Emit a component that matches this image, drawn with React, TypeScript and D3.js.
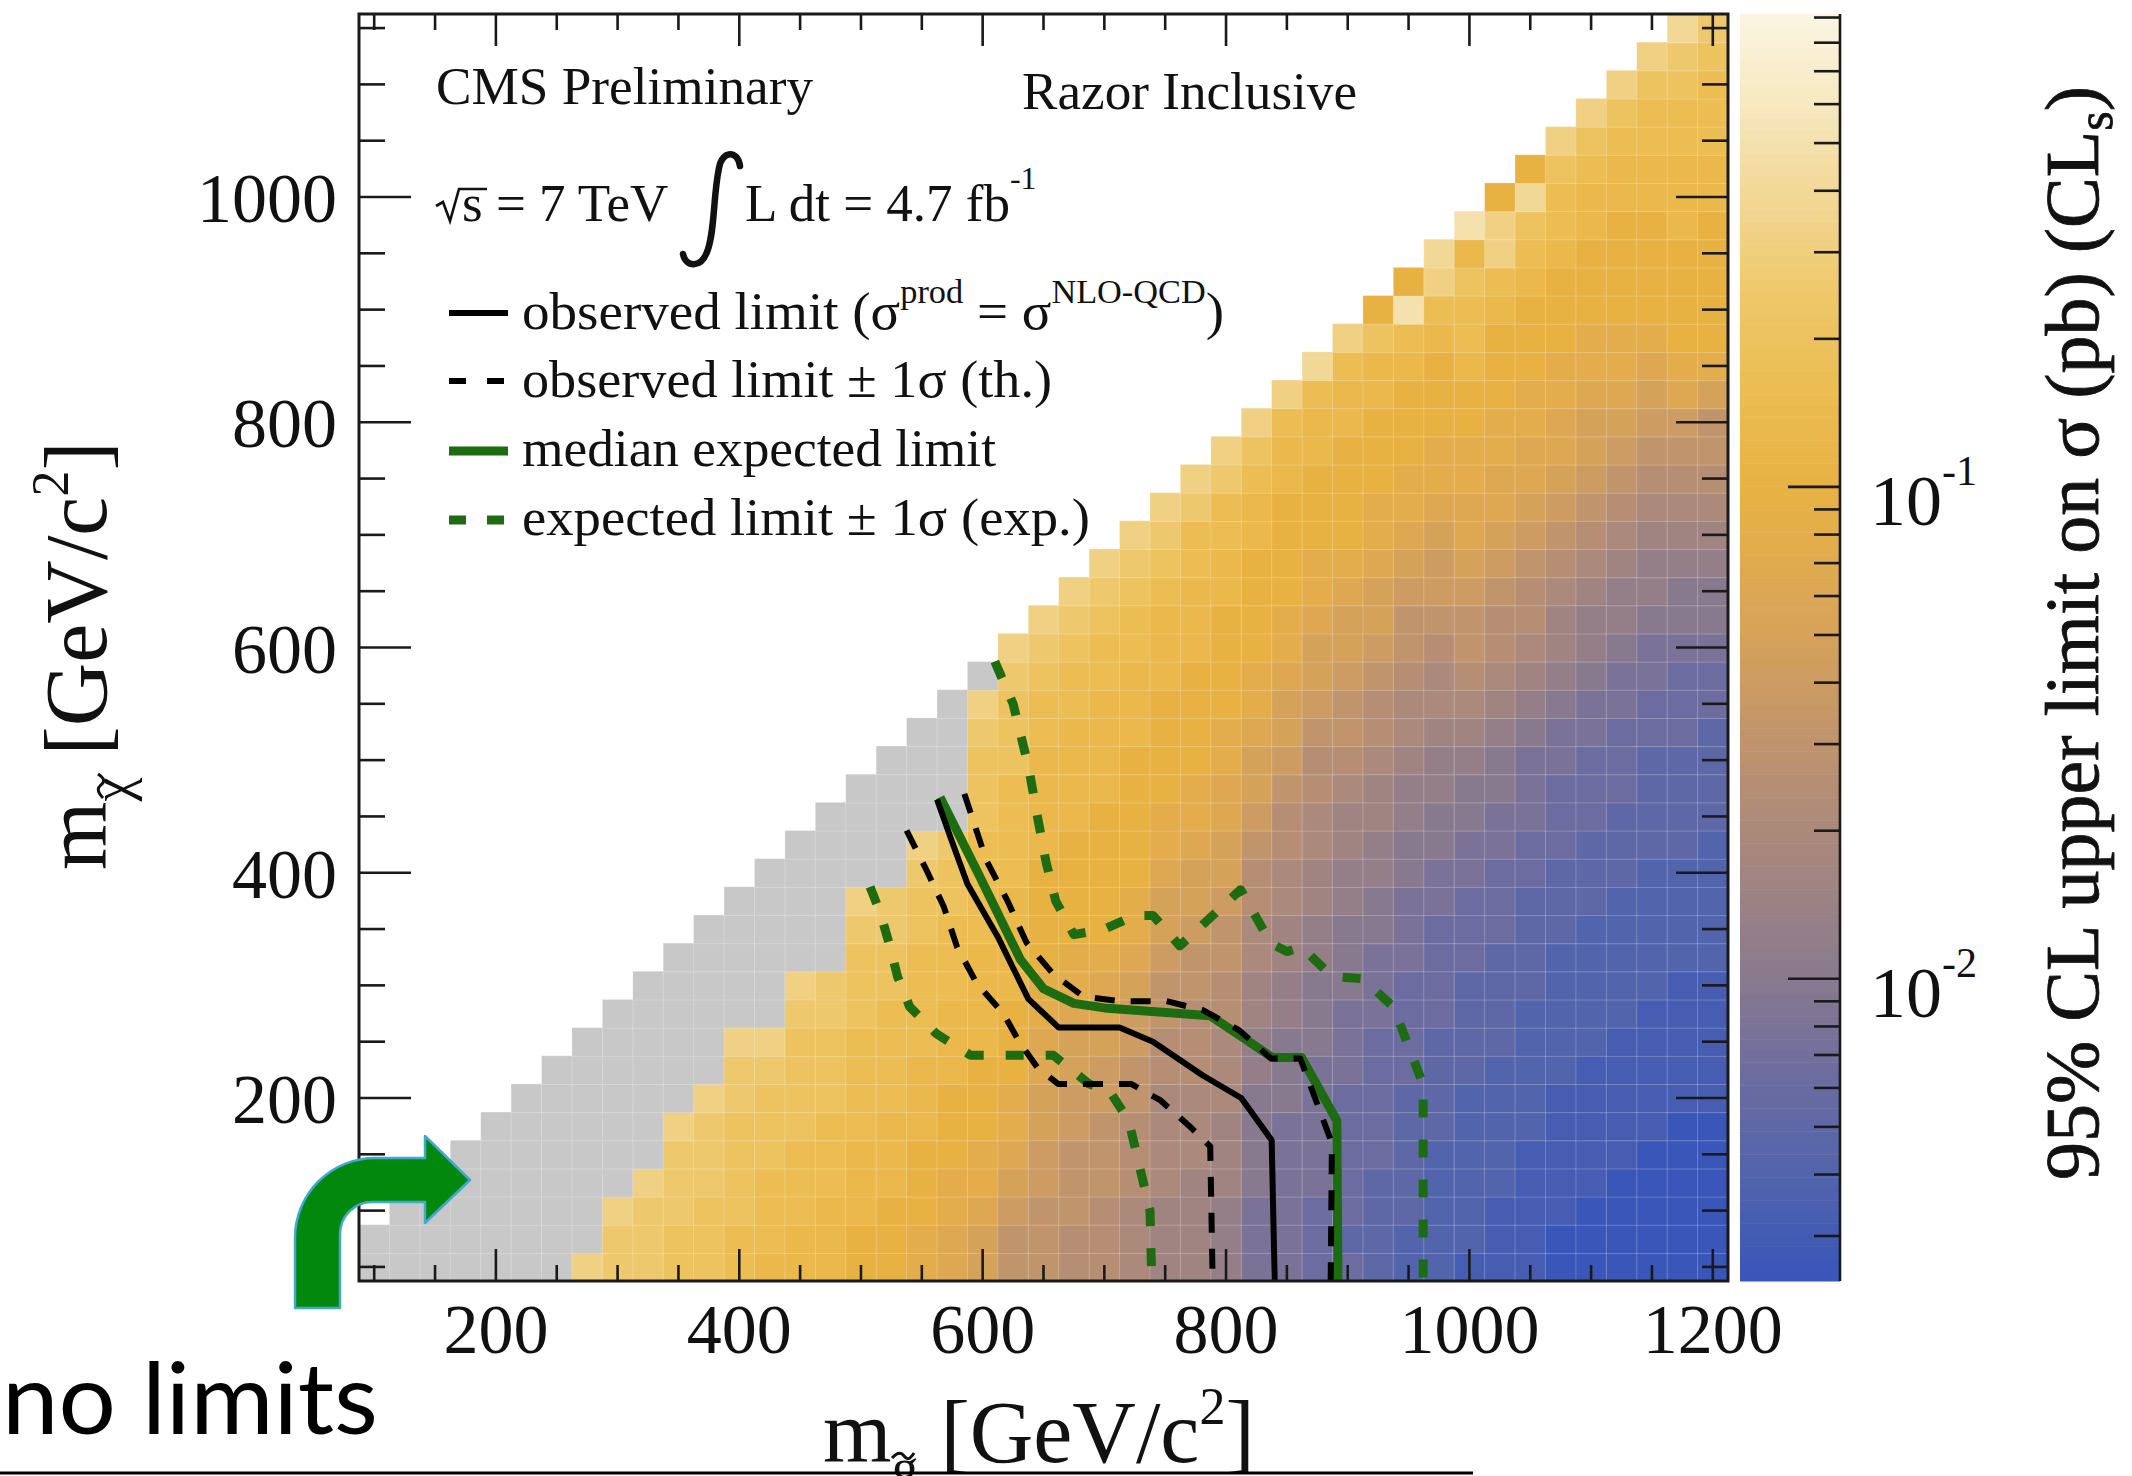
import React from 'react';
import * as d3 from 'd3';

// Razor inclusive T1 limit scan, 95% CL upper limit on sigma (pb)

const W = 2132;
const H = 1476;

// bin centres, GeV
const gluinoMass = [
  100, 125, 150, 175, 200, 225, 250, 275, 300, 325, 350, 375, 400, 425, 450,
  475, 500, 525, 550, 575, 600, 625, 650, 675, 700, 725, 750, 775, 800, 825,
  850, 875, 900, 925, 950, 975, 1000, 1025, 1050, 1075, 1100, 1125, 1150, 1175, 1200,
];
const lspMass = [
  50, 75, 100, 125, 150, 175, 200, 225, 250, 275, 300, 325, 350, 375, 400,
  425, 450, 475, 500, 525, 550, 575, 600, 625, 650, 675, 700, 725, 750, 775,
  800, 825, 850, 875, 900, 925, 950, 975, 1000, 1025, 1050, 1075, 1100, 1125, 1150,
];

// upper limit per cell, one string per gluino column, read bottom (m_LSP = 50) upward.
// letter code: 'a' = 10^-2.6 pb, each next letter +0.1 decade; '.' = no limit (grey)
const LEVELS = 'abcdefghijklmnopqrstuvwxyz';
const limitColumns = [
  '..',
  '...',
  '....',
  '.....',
  '......',
  '.......',
  '........',
  'v........',
  'uuv.......',
  'uuuv.......',
  'ttuuuv......',
  'tttuuuv......',
  'ssttttuuv.....',
  'rssstttuv......',
  'rrsssttttuv.....',
  'rrrssstttuu......',
  'qqrrrsssstttuv....',
  'qqqrrrssssttuu.....',
  'ppqqqrrrssssttuv....',
  'ooppqqqrrrsssttu.....',
  'nnoppqqqrrrrsssstttuv.',
  'llmnoppqqqrrrrsssstttuv',
  'lllmmnnooppqqqqrrrrsstuv',
  'kklllmmnnoppqqqqrrrrsstuv',
  'kkklllmmnoopqqqqqrrrrsstuv',
  'jjjkkkllmmnoppqqqqqrrrsstuv',
  'iiijjjjkkllmnnoppqqqqrrrstuv',
  'iiiijjjkkkllmnnoppqqqqrrrssuv',
  'hhhiiijjjkkllmnnooppqqqqrrssuv',
  'fffgggghhiijjkklmnnoppqqqqrrstv',
  'ffffffggghhiijjkklmnnoppqqqqrrsv',
  'eeefffffggghhiijjkklmnnoppqqqrrsw',
  'edeeeeefffggghhiijkllmnnopqqqqrrsv',
  'ddddeeeeefffgghhiijkklmnnoppqqqrrtq',
  'ccdddddeeeefffgghhijjkllmnoppqqqrsxq',
  'cccccddddeeeeffgghhijjklmmnoppqqqrsvw',
  'bccccccddddeeeffgghijkllmnooppqqrsstrx',
  'bbbcccccddddeeeffgghijkklmnooppqqqrsvvq',
  'bbbbbcccccddddeefffghijkklmnooppqqqrstwq',
  'aabbbbbcccccdddeeeffghiijklmnooppqqqrsstv',
  'aaabbbbbcccccdddeeeffghhijklmnnoppqqqrrstv',
  'aaaabbbbbcccccdddeeeffghhijklmnoppqqqqrrstv',
  'aaaaabbbbbcccccddddeeffghhijklmnopqqqqrrsstv',
  'aaaaaabbbbbccccddddeeefgghijklmopqqqqrrrsstuw',
  'aaaaaabbbbbcccccddddeefgghijkllnpqqqqqrrssstu',
];

// contours (m_gluino, m_LSP)
const obsX = [562.5, 575, 587.5, 612.5, 637.5, 662.5, 712.5, 740, 781, 812.5, 837.5, 840];
const obsY = [465, 427, 390, 343, 288, 262.5, 262.5, 250, 220, 200, 162.5, 37.5];
const obsUpX = [585, 603, 620, 636, 658, 683, 713, 751, 781, 811, 837, 861, 887, 886];
const obsUpY = [470, 411, 376, 338, 310, 290, 286, 286, 278, 260, 235, 235, 160, 37.5];
const obsDownX = [537.5, 554, 568, 579, 595, 617, 630, 645, 662, 722, 746, 770, 787, 789];
const obsDownY = [437.5, 402, 370, 334, 302, 275, 250, 227, 212.5, 212.5, 198, 175, 157, 37.5];
const expX = [565, 597, 631, 650, 675, 700, 787, 812, 838, 862, 891, 892];
const expY = [467, 398, 323, 297, 284, 280, 273, 255, 236, 236, 180, 37.5];
const expUpX = [610, 625, 637.5, 645, 652, 660, 675, 700, 725, 740, 762, 787, 812, 837, 850, 862, 887, 912, 937.5, 962, 962];
const expUpY = [587.5, 550, 495, 450, 410, 375, 345, 350, 362, 362, 335, 360, 385, 337, 330, 334, 308, 306, 281, 212, 37.5];
const expDownX = [507.5, 516, 524, 530, 540, 562, 590, 622, 658, 687.5, 705, 720, 737.5, 739];
const expDownY = [387.5, 364, 334, 308, 281, 257, 238, 238, 238, 212.5, 205, 180, 100, 37.5];

const xMajor = [200, 400, 600, 800, 1000, 1200];
const xMinor = [100, 150, 250, 300, 350, 450, 500, 550, 650, 700, 750, 850, 900, 950, 1050, 1100, 1150];
const yMajor = [200, 400, 600, 800, 1000];
const yMinor = [50, 100, 150, 250, 300, 350, 450, 500, 550, 650, 700, 750, 850, 900, 950, 1050, 1100, 1150];
const zMajor = [0.01, 0.1];
const zMinor = [0.003, 0.004, 0.005, 0.006, 0.007, 0.008, 0.009, 0.02, 0.03, 0.04, 0.05, 0.06, 0.07, 0.08, 0.09, 0.2, 0.3, 0.4, 0.5, 0.6, 0.7, 0.8, 0.9];

// palette, indexed by level code
const paletteLevels = [0, 2, 4, 6, 8, 10, 12, 14, 16, 18, 20, 22, 24, 26];
const paletteColors = [
  '#3a56b8', '#5264ac', '#6c6ca0', '#887a8e', '#a08482', '#b68e74', '#cc9c62',
  '#dea852', '#e8b243', '#ebbd52', '#eec86c', '#f2d897', '#f7eac4', '#fcf8ea',
];
const NO_LIMIT = '#c8c8c8';
const GREEN = '#1d6c12';
const SERIF = "'Liberation Serif', 'Times New Roman', serif";

const PLOT = { left: 359, right: 1728, top: 14, bottom: 1281 };
const CBAR = { left: 1740, right: 1840 };

// small tilde accent drawn as a path, local coords
const tildePath = (x0: number, y0: number, w: number) =>
  `M${x0},${y0 + 2} C${x0 + w * 0.3},${y0 - 5} ${x0 + w * 0.45},${y0 - 3} ${x0 + w * 0.55},${y0}` +
  ` C${x0 + w * 0.68},${y0 + 4} ${x0 + w * 0.8},${y0 + 4} ${x0 + w},${y0 - 3}`;

export default function App() {
  const x = d3.scaleLinear().domain([87.5, 1212.5]).range([PLOT.left, PLOT.right]);
  const y = d3.scaleLinear().domain([37.5, 1162.5]).range([PLOT.bottom, PLOT.top]);
  const z = d3.scaleLog().domain([0.00243, 0.915]).range([PLOT.bottom, PLOT.top]);

  const levelColor = d3.scaleLinear<string>()
    .domain(paletteLevels)
    .range(paletteColors)
    .interpolate(d3.interpolateRgb)
    .clamp(true);
  const colorOf = (v: number) => levelColor((Math.log10(v) + 2.6) / 0.1);
  const limitFromCode = (ch: string) => Math.pow(10, -2.6 + 0.1 * LEVELS.indexOf(ch));

  const line = d3.line<[number, number]>().x(d => x(d[0])).y(d => y(d[1]));
  const zip = (xs: number[], ys: number[]) => xs.map((v, i) => [v, ys[i]] as [number, number]);

  // heat map cells
  const cells: JSX.Element[] = [];
  gluinoMass.forEach((mg, i) => {
    const codes = limitColumns[i] || '';
    for (let j = 0; j < codes.length && j < lspMass.length; j++) {
      const ml = lspMass[j];
      const ch = codes[j];
      const fill = ch === '.' ? NO_LIMIT : colorOf(limitFromCode(ch));
      const x0 = x(mg - 12.5);
      const x1 = x(mg + 12.5);
      const y0 = y(ml + 12.5);
      const y1 = y(ml - 12.5);
      cells.push(
        <rect key={`c${i}-${j}`} x={x0} y={y0} width={x1 - x0 + 0.6} height={y1 - y0 + 0.6}
          fill={fill} stroke="rgba(255,255,255,0.22)" strokeWidth={1} />
      );
    }
  });

  // colour bar bands
  const nBands = 110;
  const [zlo, zhi] = z.domain();
  const bands = d3.range(nBands).map(k => {
    const l0 = Math.log10(zlo) + (Math.log10(zhi) - Math.log10(zlo)) * k / nBands;
    const l1 = Math.log10(zlo) + (Math.log10(zhi) - Math.log10(zlo)) * (k + 1) / nBands;
    const vmid = Math.pow(10, (l0 + l1) / 2);
    const yTop = z(Math.pow(10, l1));
    const yBot = z(Math.pow(10, l0));
    return (
      <rect key={`b${k}`} x={CBAR.left} y={yTop} width={CBAR.right - CBAR.left}
        height={yBot - yTop + 0.5} fill={colorOf(vmid)} />
    );
  });

  const tickStroke = { stroke: '#1a1a1a', strokeWidth: 2.6 };

  return (
    <div style={{ position: 'absolute', left: 0, top: 0, width: W, height: H, background: '#fff' }}>
      <svg width={W} height={H} viewBox={`0 0 ${W} ${H}`} style={{ display: 'block' }}>
        <rect x={0} y={0} width={W} height={H} fill="#fff" />

        {/* heat map */}
        <g>{cells}</g>

        {/* contours */}
        <g fill="none" strokeLinejoin="round">
          <path d={line(zip(expUpX, expUpY)) || ''} stroke={GREEN} strokeWidth={9} strokeDasharray="18 22" />
          <path d={line(zip(expDownX, expDownY)) || ''} stroke={GREEN} strokeWidth={9} strokeDasharray="18 22" />
          <path d={line(zip(expX, expY)) || ''} stroke={GREEN} strokeWidth={9} />
          <path d={line(zip(obsX, obsY)) || ''} stroke="#000" strokeWidth={6} />
          <path d={line(zip(obsUpX, obsUpY)) || ''} stroke="#000" strokeWidth={6} strokeDasharray="20 16" />
          <path d={line(zip(obsDownX, obsDownY)) || ''} stroke="#000" strokeWidth={6} strokeDasharray="20 16" />
        </g>

        {/* frame and ticks */}
        <g {...tickStroke}>
          {xMajor.map(v => (
            <g key={`xM${v}`}>
              <line x1={x(v)} x2={x(v)} y1={PLOT.bottom} y2={PLOT.bottom - 32} />
              <line x1={x(v)} x2={x(v)} y1={PLOT.top} y2={PLOT.top + 32} />
            </g>
          ))}
          {xMinor.map(v => (
            <g key={`xm${v}`}>
              <line x1={x(v)} x2={x(v)} y1={PLOT.bottom} y2={PLOT.bottom - 16} />
              <line x1={x(v)} x2={x(v)} y1={PLOT.top} y2={PLOT.top + 16} />
            </g>
          ))}
          {yMajor.map(v => (
            <g key={`yM${v}`}>
              <line x1={PLOT.left} x2={PLOT.left + 52} y1={y(v)} y2={y(v)} />
              <line x1={PLOT.right} x2={PLOT.right - 52} y1={y(v)} y2={y(v)} />
            </g>
          ))}
          {yMinor.map(v => (
            <g key={`ym${v}`}>
              <line x1={PLOT.left} x2={PLOT.left + 26} y1={y(v)} y2={y(v)} />
              <line x1={PLOT.right} x2={PLOT.right - 26} y1={y(v)} y2={y(v)} />
            </g>
          ))}
        </g>
        <rect x={PLOT.left} y={PLOT.top} width={PLOT.right - PLOT.left} height={PLOT.bottom - PLOT.top}
          fill="none" stroke="#1a1a1a" strokeWidth={3} />

        {/* tick labels */}
        <g fontFamily={SERIF} fontSize={70} fill="#111">
          {xMajor.map(v => (
            <text key={`xl${v}`} x={x(v)} y={1353} textAnchor="middle">{v}</text>
          ))}
          {yMajor.map(v => (
            <text key={`yl${v}`} x={337} y={y(v) + 25} textAnchor="end">{v}</text>
          ))}
        </g>

        {/* colour bar */}
        <g>{bands}</g>
        <g {...tickStroke}>
          <line x1={CBAR.right} x2={CBAR.right} y1={PLOT.top} y2={PLOT.bottom} />
          {zMajor.map(v => (
            <line key={`zM${v}`} x1={CBAR.right} x2={CBAR.right - 52} y1={z(v)} y2={z(v)} />
          ))}
          {zMinor.map(v => (
            <line key={`zm${v}`} x1={CBAR.right} x2={CBAR.right - 26} y1={z(v)} y2={z(v)} />
          ))}
        </g>
        <g fontFamily={SERIF} fill="#111">
          {zMajor.map(v => (
            <text key={`zl${v}`} x={1870} y={z(v) + 38} fontSize={72}>
              10<tspan fontSize={42} dy={-40}>{`-${Math.round(-Math.log10(v))}`}</tspan>
            </text>
          ))}
        </g>

        {/* axis titles */}
        <g fontFamily={SERIF} fill="#111">
          <text x={823} y={1462} fontSize={88}>
            m<tspan fontSize={54} dy={24}>g</tspan>
            <tspan dy={-24}> [GeV/c</tspan>
            <tspan fontSize={52} dy={-38}>2</tspan>
            <tspan dy={38}>]</tspan>
          </text>
          <path d={tildePath(892, 1456, 22)} fill="none" stroke="#111" strokeWidth={3} />
          <g transform="translate(106,870) rotate(-90)">
            <text x={0} y={0} fontSize={88}>
              m<tspan fontSize={54} dy={24}>χ</tspan>
              <tspan dy={-24}> [GeV/c</tspan>
              <tspan fontSize={52} dy={-38}>2</tspan>
              <tspan dy={38}>]</tspan>
            </text>
            <path d={tildePath(72, -5, 24)} fill="none" stroke="#111" strokeWidth={3} />
          </g>
          <text transform="translate(2098,633) rotate(-90)" fontSize={76} textAnchor="middle"
            stroke="#111" strokeWidth={0.8}>
            95% CL upper limit on σ (pb) (CL<tspan fontSize={50} dy={14}>s</tspan><tspan dy={-14}>)</tspan>
          </text>
        </g>

        {/* header */}
        <g fontFamily={SERIF} fill="#111">
          <text x={436} y={104} fontSize={53} textLength={377} lengthAdjust="spacingAndGlyphs">CMS Preliminary</text>
          <text x={1022} y={109} fontSize={53} textLength={335} lengthAdjust="spacingAndGlyphs">Razor Inclusive</text>
          <path d="M436,206 L443,202 L450,221 L459,189 L487,189" fill="none" stroke="#111" strokeWidth={2.6} />
          <text x={462} y={221} fontSize={53}>s = 7 TeV</text>
          <path d="M740,166 C738,150 722,150 719,168 C713,196 715,232 707,252 C701,268 686,268 683,254"
            fill="none" stroke="#111" strokeWidth={6.5} strokeLinecap="round" />
          <text x={745} y={221} fontSize={53}>L dt = 4.7 fb<tspan fontSize={32} dy={-32}>-1</tspan></text>
        </g>

        {/* legend */}
        <g>
          <line x1={449} x2={508} y1={313} y2={313} stroke="#000" strokeWidth={6} />
          <line x1={449} x2={508} y1={381} y2={381} stroke="#000" strokeWidth={6} strokeDasharray="17 21" />
          <line x1={449} x2={508} y1={451} y2={451} stroke={GREEN} strokeWidth={9} />
          <line x1={449} x2={508} y1={520} y2={520} stroke={GREEN} strokeWidth={9} strokeDasharray="17 21" />
        </g>
        <g fontFamily={SERIF} fontSize={53} fill="#111">
          <text x={522} y={329} textLength={702} lengthAdjust="spacingAndGlyphs">
            observed limit (σ<tspan fontSize={33} dy={-26}>prod</tspan>
            <tspan dy={26}> = σ</tspan><tspan fontSize={33} dy={-26}>NLO-QCD</tspan>
            <tspan dy={26}>)</tspan>
          </text>
          <text x={522} y={397} textLength={530} lengthAdjust="spacingAndGlyphs">observed limit ± 1σ (th.)</text>
          <text x={522} y={466} textLength={474} lengthAdjust="spacingAndGlyphs">median expected limit</text>
          <text x={522} y={535} textLength={568} lengthAdjust="spacingAndGlyphs">expected limit ± 1σ (exp.)</text>
        </g>

        {/* annotation */}
        <path d="M295,1308 L295,1238 A80,80 0 0 1 375,1158 L425,1158 L425,1136 L470,1180 L425,1223 L425,1202 L372,1202 A32,32 0 0 0 340,1234 L340,1308 Z"
          fill="#02880c" stroke="#43a8cf" strokeWidth={2.5} strokeLinejoin="round" />
        <text x={2} y={1434} fontFamily="Lato, 'Open Sans', sans-serif" fontSize={98} fill="#000"
          textLength={376} lengthAdjust="spacingAndGlyphs">no limits</text>
        <line x1={0} x2={1473} y1={1473} y2={1473} stroke="#000" strokeWidth={3} />
      </svg>
    </div>
  );
}
